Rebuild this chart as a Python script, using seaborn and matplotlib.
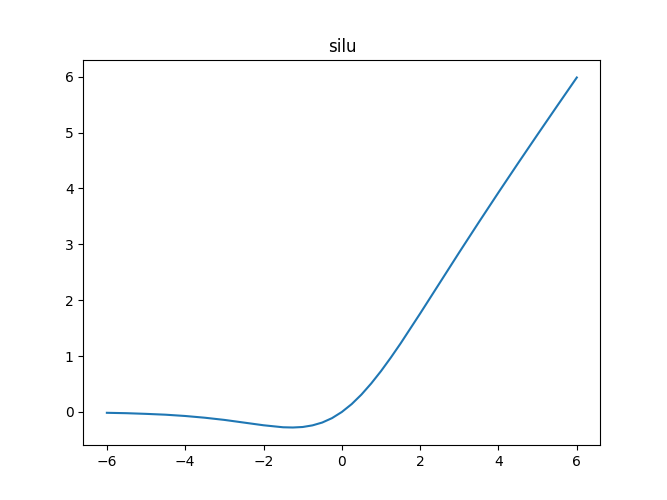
import matplotlib
matplotlib.use('Agg')
import matplotlib.pyplot as plt
import seaborn as sns

# values
x_vals = [-6, -5.5, -5, -4.5, -4, -3.5, -3, -2.5, -2, -1.5, -1.25, -1, -0.75, -0.5, -0.25,
          0, 0.25, 0.5, 0.75, 1, 1.25, 1.5, 2, 2.5, 3, 3.5, 4, 4.5, 5, 5.5, 6]
y_vals = [-0.015, -0.022, -0.034, -0.049, -0.072, -0.103, -0.142, -0.190, -0.238, -0.274, -0.278,
          -0.269, -0.240, -0.189, -0.110, 0.0, 0.140, 0.311, 0.510, 0.731, 0.972, 1.226, 1.762,
          2.310, 2.858, 3.397, 3.928, 4.451, 4.967, 5.478, 5.985]
title = 'silu'

fig, ax = plt.subplots(figsize=(6.67, 5), dpi=100)
sns.lineplot(x=x_vals, y=y_vals, ax=ax, color='#1f77b4', linewidth=1.5)
ax.set_title(title)

fig.savefig('out.png')
